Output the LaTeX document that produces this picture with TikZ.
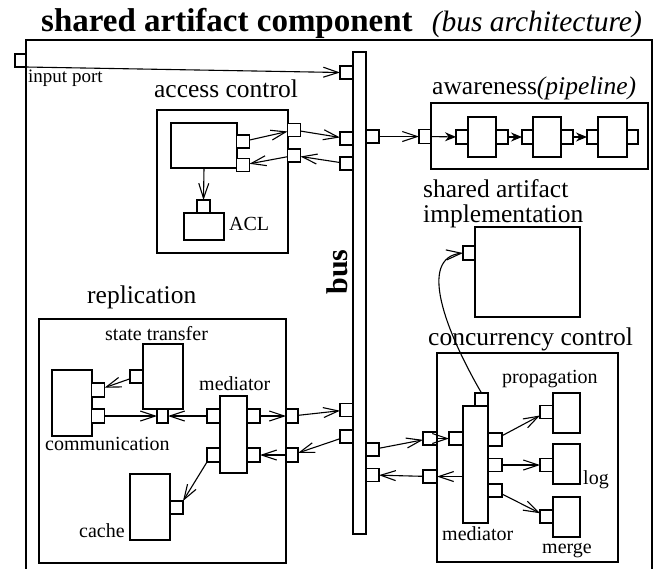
\documentclass[tikz,border=0pt]{standalone}
\usepackage{fontspec}
\setmainfont{Liberation Serif}
\usetikzlibrary{arrows.meta}
\begin{document}
\begin{tikzpicture}[x=1pt,y=-1pt,
 box/.style={draw, fill=white, line width=1.2pt, inner sep=0pt, outer sep=0pt},
 port/.style={box, minimum width=13pt, minimum height=13pt},
 arr/.style={line width=1.1pt, -{Straight Barb[length=15pt,width=10pt,line width=1.1pt]}},
 parr/.style={line width=1.1pt, -{Stealth[length=11pt,width=9pt]}},
 big/.style={font=\fontsize{25.5}{28}\selectfont, inner sep=0pt},
 small/.style={font=\fontsize{20}{22}\selectfont, inner sep=0pt},
]
\useasboundingbox (0,0) rectangle (658,568);
% title
\node[anchor=base west, inner sep=0pt, font=\fontsize{33}{35}\selectfont\bfseries] (title) at (41,31) {shared artifact component};
\node[anchor=base east, inner sep=0pt, font=\fontsize{29.5}{32}\selectfont\itshape] (subtitle) at (642,31) {(bus architecture)};
% outer frame
\node[box, anchor=north west, minimum width=626pt, minimum height=540pt] (outer) at (26,40) {};
% bus
\node[box, minimum width=13pt, minimum height=482pt] (bus) at (359.5,293) {};
\node[rotate=90, anchor=base, inner sep=0pt, font=\fontsize{30}{32}\selectfont\bfseries] (buslbl) at (347,272) {bus};
\node[port] (bpin) at (346.5,72.5) {};
\node[port] (bpa1) at (346.5,138.5) {};
\node[port] (bpa2) at (346.5,163.5) {};
\node[port] (bpr1) at (346.5,410) {};
\node[port] (bpr2) at (346.5,436.5) {};
\node[port] (bpw) at (372.5,136.5) {};
\node[port] (bpc1) at (372.5,449.5) {};
\node[port] (bpc2) at (372.5,475) {};
% input port
\node[port, minimum width=11pt] (inport) at (20.5,60.5) {};
\node[small, anchor=base west, font=\fontsize{19}{21}\selectfont] (inlbl) at (28,82) {input port};

% access control
\node[big, anchor=base] (aclbl) at (226,97) {access control};
\node[box, minimum width=131pt, minimum height=143pt] (acbox) at (222.5,181.5) {};
\node[box, minimum width=66pt, minimum height=45pt] (ac) at (204,145.5) {};
\node[port] (acp1) at (243,141.5) {};
\node[port] (acp2) at (243,165) {};
\node[port] (aop1) at (294,130) {};
\node[port] (aop2) at (294,155.5) {};
\node[box, minimum width=40pt, minimum height=27pt] (acl) at (204,226.5) {};
\node[port] (aclp) at (203.5,206.5) {};
\node[small, anchor=base west] (acllbl) at (229,230) {ACL};

% awareness
\node[big, anchor=base west] (awlbl) at (432,94) {awareness\textit{(pipeline)}};
\node[box, minimum width=217pt, minimum height=66pt] (aw) at (539.5,136) {};
\node[port, minimum width=12pt, minimum height=14pt] (awin) at (425,136.5) {};
\node[box, minimum width=28pt, minimum height=40pt] (f1) at (482,137) {};
\node[port, minimum width=12pt, minimum height=14pt] (f1l) at (462,137) {};
\node[port, minimum width=12pt, minimum height=14pt] (f1r) at (502,137) {};
\node[box, minimum width=28pt, minimum height=40pt] (f2) at (547,137) {};
\node[port, minimum width=11pt, minimum height=14pt] (f2l) at (527.5,137) {};
\node[port, minimum width=12pt, minimum height=14pt] (f2r) at (567,137) {};
\node[box, minimum width=29pt, minimum height=40pt] (f3) at (612.5,137) {};
\node[port, minimum width=11pt, minimum height=14pt] (f3l) at (592.5,137) {};
\node[port, minimum width=11pt, minimum height=14pt] (f3r) at (632.5,137) {};

% shared artifact implementation
\node[big, anchor=base west] (implbl1) at (423,197) {shared artifact};
\node[big, anchor=base west] (implbl2) at (423,222) {implementation};
\node[box, minimum width=105pt, minimum height=90pt] (impl) at (527.5,272) {};
\node[port, minimum width=12pt, minimum height=14pt] (implp) at (469,253) {};

% concurrency control
\node[big, anchor=base west] (cclbl) at (428,345) {concurrency control};
\node[box, minimum width=181pt, minimum height=209pt] (ccbox) at (527.5,457.5) {};
\node[port, minimum width=14pt] (ccp1) at (430,438.5) {};
\node[port, minimum width=14pt] (ccp2) at (430,476.5) {};
\node[box, minimum width=25pt, minimum height=117pt] (cmed) at (475.5,464.5) {};
\node[port] (cmt) at (481.5,399.5) {};
\node[port, minimum width=14pt] (cml) at (456,438.5) {};
\node[port, minimum width=14pt] (cmr1) at (495,439.5) {};
\node[port, minimum width=14pt] (cmr2) at (495,465) {};
\node[port, minimum width=14pt] (cmr3) at (495,490.5) {};
\node[box, minimum width=27pt, minimum height=40pt] (prop) at (566.5,413) {};
\node[port] (propp) at (546.5,412) {};
\node[box, minimum width=27pt, minimum height=40pt] (log) at (566.5,464) {};
\node[port] (logp) at (546.5,465) {};
\node[box, minimum width=27pt, minimum height=40pt] (merge) at (566.5,517) {};
\node[port] (mergep) at (546.5,516.5) {};
\node[small, anchor=base west] (proplbl) at (502,383) {propagation};
\node[small, anchor=base west] (loglbl) at (583,484) {log};
\node[small, anchor=base west] (mergelbl) at (542,553) {merge};
\node[small, anchor=base west] (cmedlbl) at (442,540) {mediator};

% replication
\node[big, anchor=base west] (replbl) at (87,303) {replication};
\node[box, minimum width=247pt, minimum height=244pt] (rep) at (162.5,441) {};
\node[box, minimum width=40pt, minimum height=65pt] (st) at (163,376.5) {};
\node[small, anchor=base west] (stlbl) at (105,340) {state transfer};
\node[port] (stl) at (136.5,376.5) {};
\node[port, minimum width=11pt, minimum height=14pt] (stb) at (162.5,416) {};
\node[box, minimum width=40pt, minimum height=66pt] (comm) at (72,403) {};
\node[port, minimum height=14pt] (cp1) at (98,390) {};
\node[port, minimum height=14pt] (cp2) at (98,416) {};
\node[small, anchor=base west] (commlbl) at (45,450) {communication};
\node[box, minimum width=27pt, minimum height=77pt] (rmed) at (233.5,434.5) {};
\node[small, anchor=base west] (rmedlbl) at (199,390) {mediator};
\node[port, minimum height=14pt] (rml1) at (213.5,416) {};
\node[port, minimum height=14pt] (rml2) at (213.5,455) {};
\node[port, minimum height=14pt] (rmr1) at (253.5,416) {};
\node[port, minimum height=14pt] (rmr2) at (253.5,455) {};
\node[port, minimum width=12pt, minimum height=14pt] (rep1) at (292,416) {};
\node[port, minimum width=12pt, minimum height=14pt] (rep2) at (292,455) {};
\node[box, minimum width=40pt, minimum height=66pt] (cache) at (150,507) {};
\node[port] (cachep) at (176.5,507.5) {};
\node[small, anchor=base west] (cachelbl) at (79,537) {cache};

% connectors
\draw[arr] (inport.south east) -- (bpin.west);
\draw[arr] (acp1) -- (aop1);
\draw[arr] (aop1) -- (bpa1);
\draw[arr] (bpa2) -- (aop2);
\draw[arr] (aop2) -- (acp2);
\draw[arr] (ac.south) -- (aclp.north);
\draw[arr] (bpw) -- (awin);
\draw[parr] (awin) -- (f1l);
\draw[parr] (f1r) -- (f2l);
\draw[parr] (f2r) -- (f3l);
\draw[arr] (stl) -- (cp1);
\draw[arr] (cp2) -- (stb);
\draw[arr] (rml1) -- (stb);
\draw[arr] (rmr1) -- (rep1);
\draw[arr] (rep1) -- (bpr1);
\draw[arr] (bpr2) -- (rep2);
\draw[arr] (rep2) -- (rmr2);
\draw[arr] (rml2.south west) -- (cachep.north east);
\draw[arr] (bpc1) -- (ccp1);
\draw[arr] (ccp1) -- (cml);
\draw[arr] (cmed.west |- ccp2.center) -- (ccp2);
\draw[arr] (ccp2) -- (bpc2);
\draw[arr] (cmr1) -- (propp);
\draw[arr] (cmr2) -- (logp);
\draw[arr] (cmr3) -- (mergep);
\draw[arr] (cmt.north) .. controls (445,330) and (418,258) .. (implp.west);
\end{tikzpicture}
\end{document}
